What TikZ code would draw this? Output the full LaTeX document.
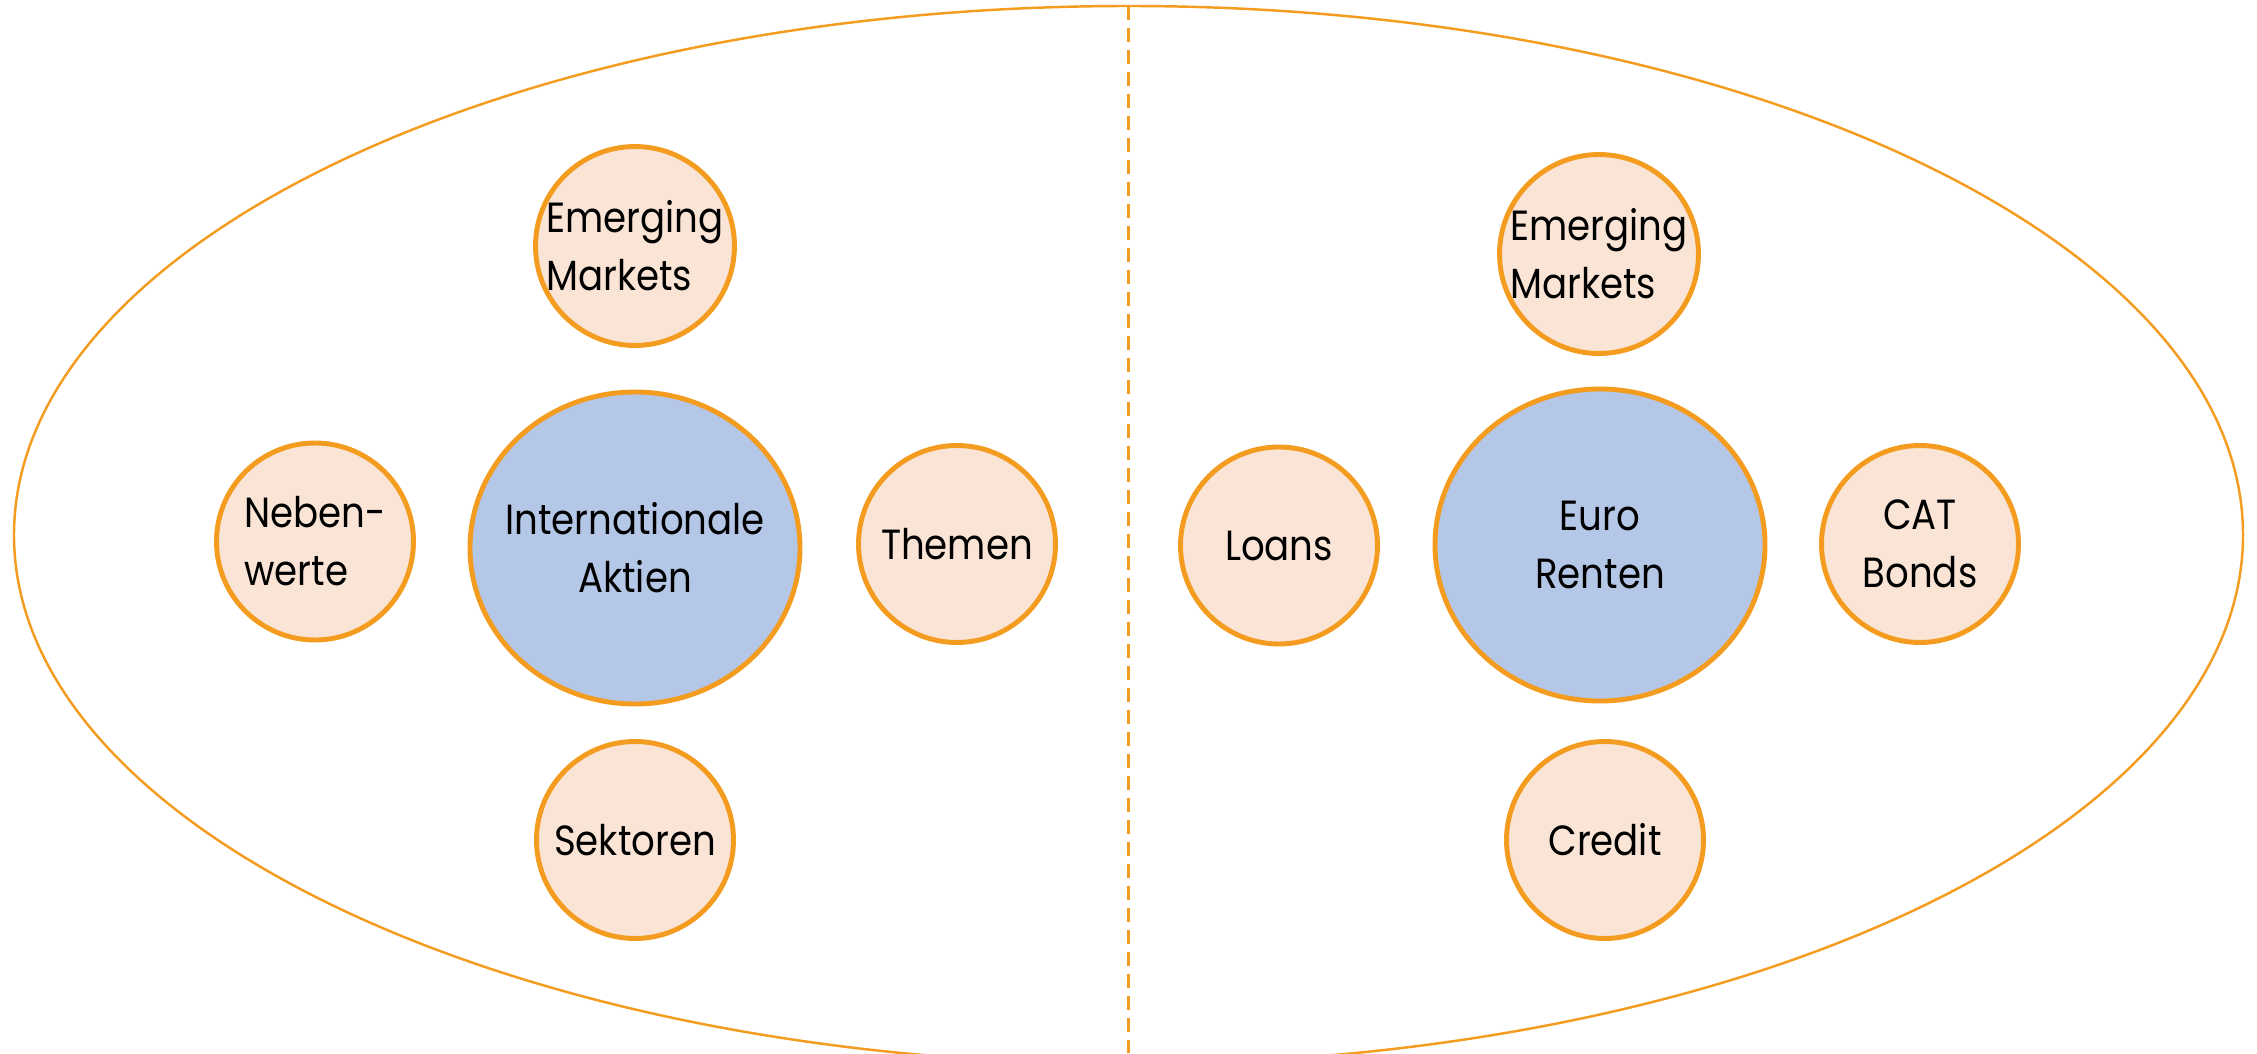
\documentclass[tikz,border=0pt]{standalone}
\usepackage{fontspec}
\setmainfont{Poppins}[FakeStretch=0.88]
\usetikzlibrary{shapes.geometric}

\definecolor{rand}{HTML}{F39C1F}
\definecolor{perzik}{HTML}{FAE4D6}
\definecolor{lichtblauw}{HTML}{B4C7E7}

\tikzset{
    klein/.style={circle, draw=rand, fill=perzik, line width=1.4pt, minimum size=1.97cm, inner sep=0pt, font=\fontsize{12}{16.5}\selectfont},
    groot/.style={ellipse, draw=rand, fill=lichtblauw, line width=1.4pt, minimum width=3.3cm, minimum height=3.12cm, inner xsep=-0.2cm, inner ysep=0pt, align=center, font=\fontsize{12}{16.5}\selectfont}
}

\begin{document}
\begin{tikzpicture}
                \useasboundingbox (0, 0) rectangle (22.57, 10.53);
                \clip (0, 0) rectangle (22.57, 10.53);
                
                % grote ellips met scheidingslijn
                \draw[rand, line width=0.7pt] (11.285, 5.18) ellipse (11.145 and 5.29);
                \coordinate (boven) at (11.28, 10.47);
                \coordinate (onder) at (11.28, 0);
                \draw[rand, line width=0.85pt, dash pattern=on 0.14cm off 0.08cm] (boven) -- (onder);
                
                % aandelen
                \node[groot] (aktien) at (6.35, 5.05) {Internationale\\Aktien};
                \node[klein, align=left] (emL) at (6.35, 8.07) {Emerging\\Markets};
                \node[klein, align=left] (neben) at (3.15, 5.115) {Neben-\\werte};
                \node[klein] (themen) at (9.57, 5.09) {Themen};
                \node[klein] (sektoren) at (6.35, 2.13) {Sektoren};
                
                % renten
                \node[groot] (renten) at (16.0, 5.08) {Euro\\Renten};
                \node[klein, align=left] (emR) at (15.99, 7.99) {Emerging\\Markets};
                \node[klein] (loans) at (12.79, 5.075) {Loans};
                \node[klein, align=center] (cat) at (19.20, 5.09) {CAT\\Bonds};
                \node[klein] (credit) at (16.05, 2.13) {Credit};
                \end{tikzpicture}
\end{document}
